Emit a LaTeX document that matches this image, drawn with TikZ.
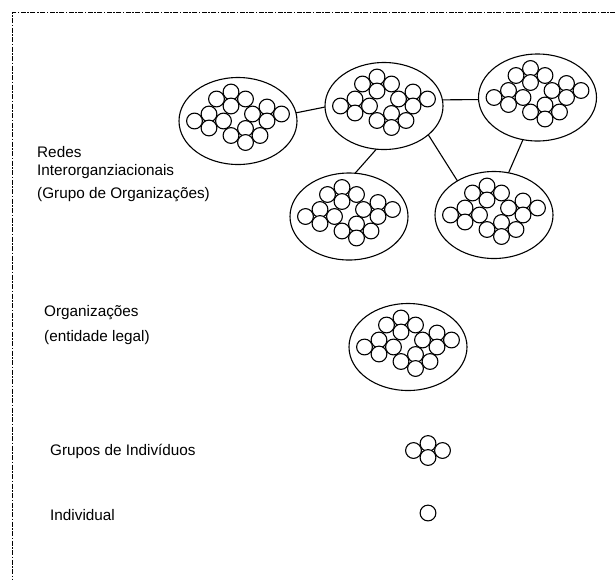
\documentclass[tikz,border=0pt]{standalone}
\usepackage{fontspec}
\setmainfont{Liberation Sans}
\usetikzlibrary{shapes.geometric}
\begin{document}
\begin{tikzpicture}[x=1pt,y=-1pt,
  org/.style={draw, ellipse, line width=1.1pt, minimum width=118pt, minimum height=87pt, inner sep=0pt, outer sep=0pt},
  person/.style={draw, fill=white, line width=1.1pt},
  link/.style={line width=1.1pt},
  lbl/.style={anchor=base west, inner sep=0pt, font=\fontsize{15.3}{18}\selectfont},
  frame/.style={line width=1.6pt, dash pattern=on 5pt off 1.5pt on 1.5pt off 1.5pt},
  group/.pic={
    \draw[person] (0,-7) circle[radius=7.9];
    \draw[person] (-14.5,0) circle[radius=7.9];
    \draw[person] (14.5,0) circle[radius=7.9];
    \draw[person] (0,7) circle[radius=7.9];
  },
  cluster/.pic={
    \node[org] (-e) at (0,0) {};
    \pic at (-7,-22) {group};
    \pic at (-29,0) {group};
    \pic at (29,-7) {group};
    \pic at (7.5,14.5) {group};
  }
]
\useasboundingbox (0,0) rectangle (615,579);
\draw[frame] (615,12.5) -- (12.5,12.5) -- (12.5,579);

\pic (L) at (238,121) {cluster};
\pic (M) at (384,106) {cluster};
\pic (TR) at (537.5,97.5) {cluster};
\pic (BL) at (349,216.5) {cluster};
\pic (BR) at (494,215) {cluster};
\pic (O) at (408,347) {cluster};
\pic at (428,450.5) {group};
\draw[person] (428,513) circle[radius=7.9];

\draw[link] (L-e.8) -- (M-e.181);
\draw[link] (M-e.6) -- (TR-e.182);
\draw[link] (M-e.260) -- (BL-e.82);
\draw[link] (M-e.327) -- (BR-e.137);
\draw[link] (TR-e.251) -- (BR-e.71);

\node[lbl] (t1) at (37,157) {Redes};
\node[lbl] (t2) at (37,175) {Interorganziacionais};
\node[lbl] (t3) at (37,198) {(Grupo de Organizações)};
\node[lbl] (t4) at (44,316) {Organizações};
\node[lbl] (t5) at (44,341) {(entidade legal)};
\node[lbl] (t6) at (50,455) {Grupos de Indivíduos};
\node[lbl] (t7) at (50,520) {Individual};
\end{tikzpicture}
\end{document}
